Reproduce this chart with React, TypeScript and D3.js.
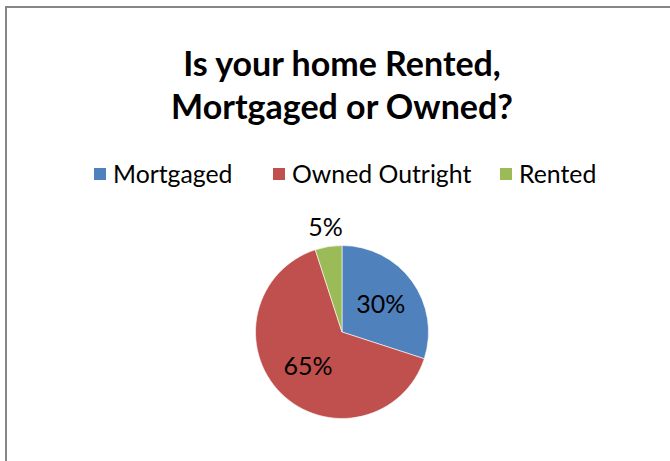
import React, { useEffect, useRef } from "react";
import * as d3 from "d3";

const categories = ["Mortgaged", "Owned Outright", "Rented"];
const values = [30, 65, 5];
const labels = ["30%", "65%", "5%"];
const colors = ["#4F81BD", "#C0504D", "#9BBB59"];
const titleLines = ["Is your home Rented,", "Mortgaged or Owned?"];

export default function App() {
  const ref = useRef<SVGSVGElement | null>(null);
  useEffect(() => {
    const svg = d3.select(ref.current);
    svg.selectAll("*").remove();
    const W = 670, H = 461;
    const font = "Lato, 'Open Sans', sans-serif";

    svg.append("rect").attr("x", 0).attr("y", 0).attr("width", W).attr("height", H).attr("fill", "#fff");
    svg.append("path")
      .attr("d", `M6,${H + 5} L6,7 L${W + 5},7`)
      .attr("fill", "none").attr("stroke", "#878787").attr("stroke-width", 2);

    const cx = 342;
    svg.append("g").selectAll("text").data(titleLines).join("text")
      .attr("x", cx).attr("y", (_, i) => 76 + i * 43)
      .attr("text-anchor", "middle")
      .attr("font-family", font).attr("font-weight", "bold").attr("font-size", 34)
      .attr("fill", "#000").text(d => d);

    // legend
    const lg = svg.append("g");
    const fs = 24.8;
    const starts = [94, 273, 500];
    categories.forEach((c, i) => {
      lg.append("rect").attr("x", starts[i]).attr("y", 168).attr("width", 12).attr("height", 12).attr("fill", colors[i]);
      lg.append("text").attr("x", starts[i] + 19).attr("y", 183)
        .attr("font-family", font).attr("font-size", fs).attr("fill", "#000").text(c);
    });

    const r = 86.5;
    const cy = 332;
    const pie = d3.pie<number>().sort(null).value(d => d);
    const arcs = pie(values);
    const arc = d3.arc<d3.PieArcDatum<number>>().innerRadius(0).outerRadius(r);
    const g = svg.append("g").attr("transform", `translate(${cx},${cy})`);
    g.selectAll("path").data(arcs).join("path")
      .attr("d", arc as any).attr("fill", (_, i) => colors[i])
      .attr("stroke", "#fff").attr("stroke-width", 0.6);

    const inner = d3.arc<d3.PieArcDatum<number>>().innerRadius(48).outerRadius(48);
    const outer = d3.arc<d3.PieArcDatum<number>>().innerRadius(106).outerRadius(106);
    g.selectAll("text").data(arcs).join("text")
      .attr("transform", (d) => {
        const [x, y] = (d.data < 10 ? outer : inner).centroid(d);
        return `translate(${x},${y})`;
      })
      .attr("text-anchor", "middle").attr("dy", "0.35em")
      .attr("font-family", font).attr("font-size", 25).attr("fill", "#000")
      .text((_, i) => labels[i]);
  }, []);
  return <svg ref={ref} width={670} height={461} style={{ position: "absolute", left: 0, top: 0 }} />;
}
